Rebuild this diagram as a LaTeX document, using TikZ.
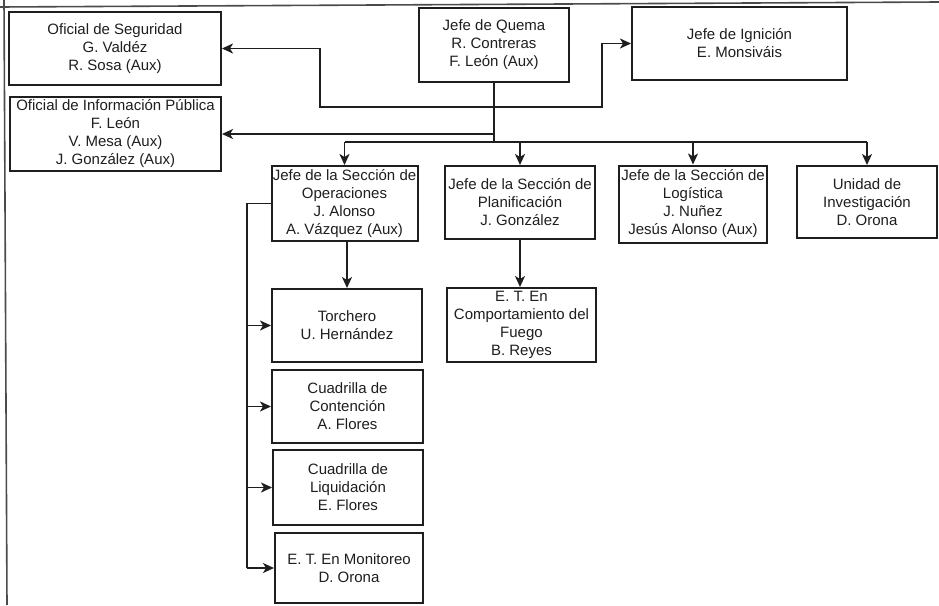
\documentclass[tikz,border=0pt]{standalone}
\usepackage{fontspec}
\setmainfont{Liberation Sans}
\usetikzlibrary{arrows.meta}
\definecolor{ink}{HTML}{1E1E1E}
\tikzset{
  box/.style={draw=ink, line width=2pt, align=center, inner sep=1pt, text=ink,
    font=\fontsize{15}{18}\selectfont},
  conn/.style={draw=ink, line width=1.8pt},
  arr/.style={conn, -{Stealth[length=11pt,width=10pt,inset=3pt]}},
  frameline/.style={draw=ink!80, line width=1.6pt}
}
\begin{document}
\begin{tikzpicture}[x=1pt,y=-1pt]
\useasboundingbox (0,0) rectangle (939,605);
\draw[frameline] (0,7) -- (939,2);
\draw[frameline] (4,0) -- (7,605);

\node[box, minimum width=212pt, minimum height=73pt] (seg) at (115,48.5) {Oficial de Seguridad\\G. Valdéz\\R. Sosa (Aux)};
\node[box, minimum width=211pt, minimum height=74pt] (info) at (115.5,134) {Oficial de Información Pública\\F. León\\V. Mesa (Aux)\\J. González (Aux)};
\node[box, minimum width=150pt, minimum height=74pt] (jq) at (494,45) {Jefe de Quema\\R. Contreras\\F. León (Aux)};
\node[box, minimum width=215pt, minimum height=73pt] (ign) at (739.5,43.5) {Jefe de Ignición\\E. Monsiváis};
\node[box, minimum width=146pt, minimum height=75pt] (ops) at (344.5,203.5) {Jefe de la Sección de\\Operaciones\\J. Alonso\\A. Vázquez (Aux)};
\node[box, minimum width=150pt, minimum height=73pt] (plan) at (520,202.5) {Jefe de la Sección de\\Planificación\\J. González};
\node[box, minimum width=148pt, minimum height=77pt] (log) at (693,204) {Jefe de la Sección de\\Logística\\J. Nuñez\\Jesús Alonso (Aux)};
\node[box, minimum width=140pt, minimum height=72pt] (uni) at (867,202) {Unidad de\\Investigación\\D. Orona};
\node[box, minimum width=150pt, minimum height=73pt] (torch) at (347,325.5) {Torchero\\U. Hernández};
\node[box, minimum width=149pt, minimum height=74pt] (etc) at (521.5,325) {E. T. En\\Comportamiento del\\Fuego\\B. Reyes};
\node[box, minimum width=151pt, minimum height=73pt] (cont) at (347.5,406.5) {Cuadrilla de\\Contención\\A. Flores};
\node[box, minimum width=150pt, minimum height=75pt] (liq) at (348,487.5) {Cuadrilla de\\Liquidación\\E. Flores};
\node[box, minimum width=148pt, minimum height=70pt] (mon) at (349,568) {E. T. En Monitoreo\\D. Orona};

\coordinate (j1) at (494,107);
\coordinate (j2) at (494,142);
\coordinate (sl) at (320,107);
\coordinate (sr) at (602,107);
\coordinate (v1) at (247,203.5);

\draw[conn] (jq.south) -- (j2);
\draw[arr] (j1) -- (sl) |- (seg.east);
\draw[arr] (j1) -- (sr) |- (ign.west);
\draw[arr] (jq.south |- info.east) -- (info.east);
\draw[conn] (ops.north |- j2) -- (uni.north |- j2);
\draw[arr] (ops.north |- j2) -- (ops.north);
\draw[arr] (plan.north |- j2) -- (plan.north);
\draw[arr] (log.north |- j2) -- (log.north);
\draw[arr] (uni.north |- j2) -- (uni.north);

\draw[arr] (ops.south -| torch.north) -- (torch.north);
\draw[arr] (plan.south) -- (plan.south |- etc.north);

\draw[conn] (ops.west) -- (v1) -- (v1 |- mon.west);
\draw[arr] (v1 |- torch.west) -- (torch.west);
\draw[arr] (v1 |- cont.west) -- (cont.west);
\draw[arr] (v1 |- liq.west) -- (liq.west);
\draw[arr] (v1 |- mon.west) -- (mon.west);
\end{tikzpicture}
\end{document}
